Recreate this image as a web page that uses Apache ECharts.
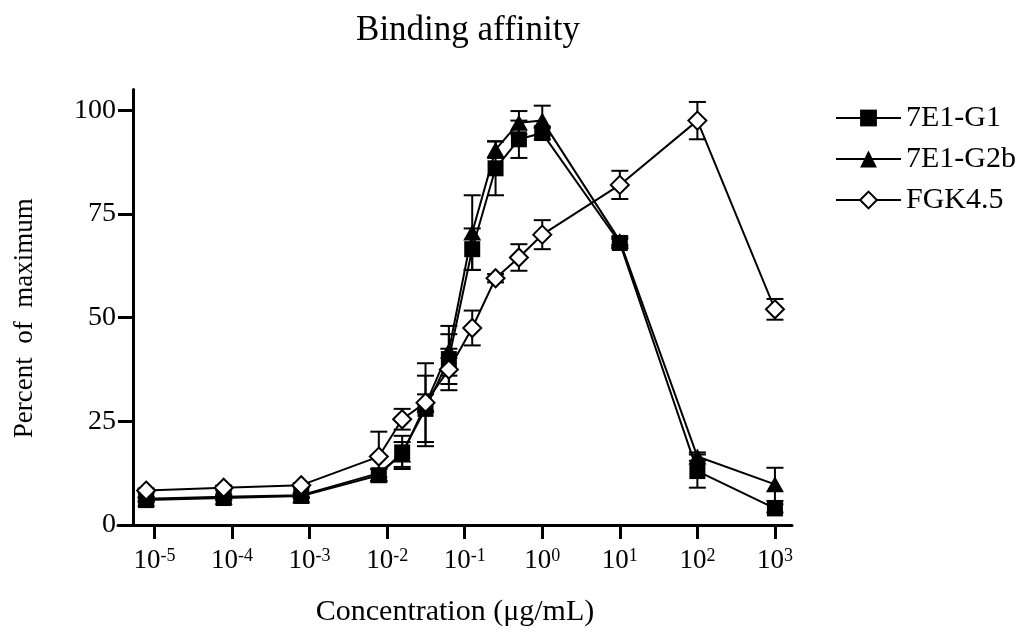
<!DOCTYPE html>
<html>
<head>
<meta charset="utf-8">
<script src="https://cdn.jsdelivr.net/npm/echarts@6/dist/echarts.min.js"></script>
<style>html,body{margin:0;padding:0;background:#fff}#c{width:1026px;height:632px}</style>
</head>
<body>
<div id="c"></div>
<script>
// Concentrations (µg/mL)
const conc = [7.8125e-6, 7.8125e-5, 7.8125e-4, 0.0078125, 0.015625, 0.03125, 0.0625, 0.125, 0.25, 0.5, 1, 10, 100, 1000];
// Percent of maximum
const g1 = [6, 6.5, 7, 12, 17.5, 28, 40, 66.5, 86, 93, 94.5, 68, 13, 4];
const g1Err = [0.5, 0.5, 0.5, 1.5, 4, 8, 6, 5, 6.5, 4.5, 1.5, 1, 4, 1];
const g2b = [6.3, 6.8, 7.2, 12.5, 17, 29, 42, 70.5, 90.5, 97, 97.5, 68.5, 16.5, 9.8];
const g2bErr = [0.5, 0.5, 0.5, 1, 3, 10, 6, 9, 2, 2.8, 3.6, 1, 1, 4];
const fgk = [8.3, 9, 9.6, 16.5, 25.5, 29.5, 37.5, 47.5, 59.5, 64.5, 70, 82, 97.5, 52];
const fgkErr = [0.5, 0.5, 0.5, 6, 2.5, 2, 5, 4.2, 1, 3.2, 3.5, 3.4, 4.5, 2.5];
// Tick exponents (decades)
const xTickExps = [-5, -4, -3, -2, -1, 0, 1, 2, 3];
const yTicks = [0, 25, 50, 75, 100];
const names = ['7E1-G1', '7E1-G2b', 'FGK4.5'];

const FONT = 'Liberation Serif';
const lx = conc.map(c => Math.log10(c));
const pts = arr => arr.map((v, i) => [lx[i], v]);
const errs = (arr, e) => arr.map((v, i) => [lx[i], v - e[i], v + e[i]]);

function errSeries(data, z) {
  return {
    type: 'custom', silent: true, z: z,
    data: data,
    renderItem: function (params, api) {
      const x = api.value(0);
      const lo = api.coord([x, api.value(1)]);
      const hi = api.coord([x, api.value(2)]);
      const w = 8.5;
      const st = { stroke: '#000', lineWidth: 2 };
      return { type: 'group', children: [
        { type: 'line', shape: { x1: lo[0], y1: lo[1], x2: hi[0], y2: hi[1] }, style: st },
        { type: 'line', shape: { x1: lo[0] - w, y1: lo[1], x2: lo[0] + w, y2: lo[1] }, style: st },
        { type: 'line', shape: { x1: hi[0] - w, y1: hi[1], x2: hi[0] + w, y2: hi[1] }, style: st }
      ]};
    }
  };
}

const chart = echarts.init(document.getElementById('c'), null, { renderer: 'canvas' });
chart.setOption({
  animation: false,
  backgroundColor: '#fff',
  textStyle: { fontFamily: FONT, color: '#000' },
  title: {
    text: 'Binding affinity', left: 463, top: 8, textAlign: 'center',
    textStyle: { fontFamily: FONT, fontWeight: 'normal', fontSize: 35, color: '#000' }
  },
  legend: {
    data: names, orient: 'vertical', left: 830, top: 98,
    itemWidth: 65, itemHeight: 21, itemGap: 11,
    textStyle: { fontFamily: FONT, fontSize: 30, color: '#000' }
  },
  grid: { left: 118, right: 234, top: 89.5, bottom: 106 },
  xAxis: {
    type: 'value', min: -5.47, max: 3.22,
    name: 'Concentration (μg/mL)', nameLocation: 'middle', nameGap: 72,
    nameTextStyle: { fontFamily: FONT, fontSize: 30, color: '#000' },
    axisLine: { onZero: false, lineStyle: { color: '#000', width: 3 } },
    axisTick: { customValues: xTickExps, length: 14, lineStyle: { color: '#000', width: 3 } },
    splitLine: { show: false },
    axisLabel: {
      customValues: xTickExps, margin: 22,
      formatter: v => '{b|10}{s|' + v + '}',
      rich: {
        b: { fontFamily: FONT, fontSize: 27, color: '#000', verticalAlign: 'bottom' },
        s: { fontFamily: FONT, fontSize: 18, color: '#000', verticalAlign: 'top' }
      }
    }
  },
  yAxis: {
    type: 'value', min: 0, max: 105, offset: -15,
    name: 'Percent  of  maximum', nameLocation: 'middle', nameGap: 95, nameRotate: 90,
    nameTextStyle: { fontFamily: FONT, fontSize: 27, color: '#000', padding: [0, 22, 0, 0] },
    axisLine: { show: true, onZero: false, lineStyle: { color: '#000', width: 3 } },
    axisTick: { show: true, customValues: yTicks, length: 15, lineStyle: { color: '#000', width: 3 } },
    splitLine: { show: false },
    axisLabel: { customValues: yTicks, margin: 17, fontFamily: FONT, fontSize: 28, color: '#000' }
  },
  series: [
    errSeries(errs(g1, g1Err), 1),
    errSeries(errs(g2b, g2bErr), 1),
    errSeries(errs(fgk, fgkErr), 1),
    {
      name: names[0], type: 'line', data: pts(g1), z: 3,
      symbol: 'rect', symbolSize: 16,
      lineStyle: { color: '#000', width: 2 },
      itemStyle: { color: '#000', borderColor: '#000', borderWidth: 0 }
    },
    {
      name: names[1], type: 'line', data: pts(g2b), z: 4,
      symbol: 'triangle', symbolSize: [18, 16],
      lineStyle: { color: '#000', width: 2 },
      itemStyle: { color: '#000', borderColor: '#000', borderWidth: 0 }
    },
    {
      name: names[2], type: 'line', data: pts(fgk), z: 5,
      symbol: 'diamond', symbolSize: [18, 18],
      lineStyle: { color: '#000', width: 2 },
      itemStyle: { color: '#fff', borderColor: '#000', borderWidth: 2 }
    }
  ]
});
</script>
</body>
</html>
